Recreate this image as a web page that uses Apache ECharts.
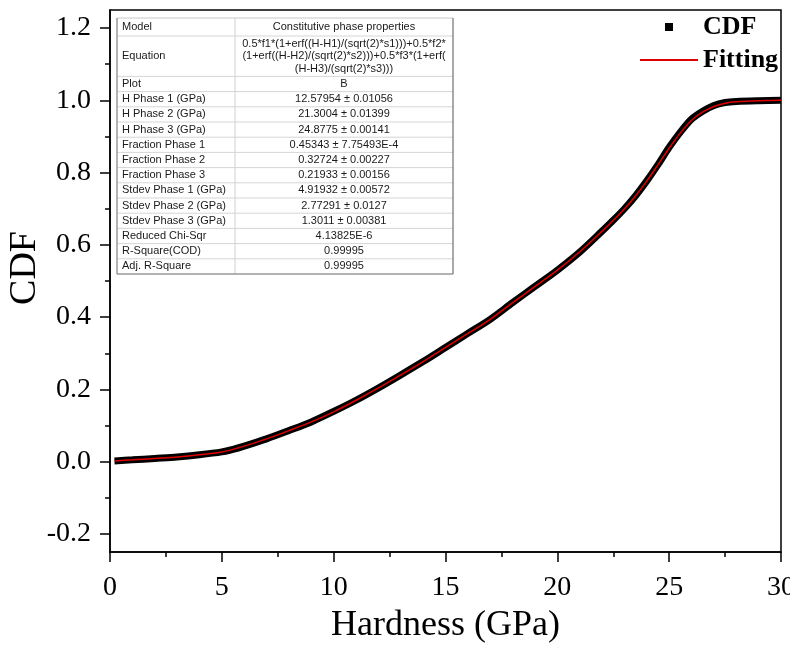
<!DOCTYPE html>
<html>
<head>
<meta charset="utf-8">
<script src="https://cdn.jsdelivr.net/npm/echarts@6/dist/echarts.min.js"></script>
<style>
html,body{margin:0;padding:0;background:#fff;}
#chart{width:790px;height:647px;}
</style>
</head>
<body>
<div id="chart"></div>
<script>
// ---- data ----
const cdfH = [0.2, 1, 2, 3, 4, 5, 5.5, 6, 7, 8, 9, 10, 11, 12, 13, 14, 15, 16, 17, 18, 19, 20, 21, 22, 22.5, 23, 23.5, 24, 24.5, 25, 25.5, 26, 26.5, 27, 27.5, 28, 29, 30];
const cdfV = [0.002, 0.005, 0.009, 0.013, 0.019, 0.027, 0.034, 0.043, 0.063, 0.086, 0.110, 0.139, 0.170, 0.204, 0.240, 0.277, 0.316, 0.355, 0.394, 0.440, 0.485, 0.530, 0.580, 0.638, 0.668, 0.700, 0.736, 0.777, 0.822, 0.870, 0.912, 0.948, 0.970, 0.986, 0.994, 0.997, 0.999, 1.000];
const fitH = [0.2, 1, 2, 3, 4, 5, 5.5, 6, 7, 8, 9, 10, 11, 12, 13, 14, 15, 16, 17, 18, 19, 20, 21, 22, 22.5, 23, 23.5, 24, 24.5, 25, 25.5, 26, 26.5, 27, 27.5, 28, 29, 30];
const fitV = [0.002, 0.005, 0.009, 0.013, 0.019, 0.027, 0.034, 0.043, 0.063, 0.086, 0.110, 0.138, 0.170, 0.204, 0.240, 0.277, 0.316, 0.355, 0.394, 0.440, 0.485, 0.530, 0.581, 0.638, 0.668, 0.700, 0.736, 0.777, 0.822, 0.868, 0.910, 0.945, 0.968, 0.983, 0.992, 0.996, 0.999, 1.000];
const seriesNames = ['CDF', 'Fitting'];
const yMajorTicks = [-0.2, 0.0, 0.2, 0.4, 0.6, 0.8, 1.0, 1.2];
const yMinorTicks = [-0.1, 0.1, 0.3, 0.5, 0.7, 0.9, 1.1];
const xTickStep = 5;
const tableLabels = ['Model', 'Equation', 'Plot', 'H Phase 1 (GPa)', 'H Phase 2 (GPa)', 'H Phase 3 (GPa)', 'Fraction Phase 1', 'Fraction Phase 2', 'Fraction Phase 3', 'Stdev Phase 1 (GPa)', 'Stdev Phase 2 (GPa)', 'Stdev Phase 3 (GPa)', 'Reduced Chi-Sqr', 'R-Square(COD)', 'Adj. R-Square'];
const tableValues = ['Constitutive phase properties',
  '0.5*f1*(1+erf((H-H1)/(sqrt(2)*s1)))+0.5*f2*\n(1+erf((H-H2)/(sqrt(2)*s2)))+0.5*f3*(1+erf(\n(H-H3)/(sqrt(2)*s3)))',
  'B', '12.57954 ± 0.01056', '21.3004 ± 0.01399', '24.8775 ± 0.00141', '0.45343 ± 7.75493E-4', '0.32724 ± 0.00227', '0.21933 ± 0.00156', '4.91932 ± 0.00572', '2.77291 ± 0.0127', '1.3011 ± 0.00381', '4.13825E-6', '0.99995', '0.99995'];

// ---- build ----
const cdfData = cdfH.map((h, i) => [h, cdfV[i]]);
const fitData = fitH.map((h, i) => [h, fitV[i]]);

const serif = '"Liberation Serif", "Times New Roman", serif';
const sans = '"Liberation Sans", Arial, sans-serif';

// table graphic
const tx = 117, ty = 18, tw = 336, c1 = 118;
const rowHeights = tableLabels.map((l, i) => i === 0 ? 18 : (i === 1 ? 40.4 : 15.2));
const tableEls = [];
let yy = ty;
tableEls.push({type: 'rect', shape: {x: tx, y: ty, width: tw, height: rowHeights.reduce((a, b) => a + b, 0)}, style: {fill: '#fff', stroke: null}, z: 10});
rowHeights.forEach((h, i) => {
  const cy = yy + h / 2;
  tableEls.push({type: 'text', x: tx + 5, y: cy, style: {text: tableLabels[i], font: '11px ' + sans, fill: '#1a1a1a', verticalAlign: 'middle', align: 'left'}, z: 12});
  tableEls.push({type: 'text', x: tx + c1 + (tw - c1) / 2, y: cy, style: {text: tableValues[i], font: '11px ' + sans, fill: '#1a1a1a', verticalAlign: 'middle', align: 'center', lineHeight: 12.5}, z: 12});
  yy += h;
  if (i < rowHeights.length - 1) {
    tableEls.push({type: 'line', shape: {x1: tx, y1: yy, x2: tx + tw, y2: yy}, style: {stroke: '#d6d6d6', lineWidth: 1}, z: 11});
  }
});
const tBottom = yy;
tableEls.push({type: 'line', shape: {x1: tx + c1, y1: ty, x2: tx + c1, y2: tBottom}, style: {stroke: '#d0d0d0', lineWidth: 1}, z: 11});
tableEls.push({type: 'line', shape: {x1: tx, y1: ty, x2: tx + tw, y2: ty}, style: {stroke: '#c8c8c8', lineWidth: 1}, z: 11});
tableEls.push({type: 'line', shape: {x1: tx, y1: ty, x2: tx, y2: tBottom}, style: {stroke: '#9a9a9a', lineWidth: 1.5}, z: 11});
tableEls.push({type: 'line', shape: {x1: tx + tw, y1: ty, x2: tx + tw, y2: tBottom}, style: {stroke: '#555', lineWidth: 1}, z: 11});
tableEls.push({type: 'line', shape: {x1: tx, y1: tBottom, x2: tx + tw, y2: tBottom}, style: {stroke: '#666', lineWidth: 1}, z: 11});

const chart = echarts.init(document.getElementById('chart'), null, {renderer: 'canvas'});
chart.setOption({
  backgroundColor: '#ffffff',
  animation: false,
  grid: {left: 110, right: 9, top: 10, bottom: 95, containLabel: false, outerBoundsMode: 'none',
         show: true, borderColor: '#000', borderWidth: 1.5, backgroundColor: 'transparent'},
  legend: [
    {data: [seriesNames[0]], left: 665, top: 13, padding: 0, icon: 'rect', itemWidth: 8, itemHeight: 8,
     textStyle: {fontFamily: serif, fontWeight: 'bold', fontSize: 26, color: '#000', padding: [0, 0, 0, 25], lineHeight: 28}},
    {data: [seriesNames[1]], left: 640, top: 46, padding: 0, icon: 'rect', itemWidth: 58, itemHeight: 2,
     textStyle: {fontFamily: serif, fontWeight: 'bold', fontSize: 26, color: '#000', lineHeight: 28}}
  ],
  xAxis: {
    type: 'value', min: 0, max: 30, interval: xTickStep,
    name: 'Hardness (GPa)', nameLocation: 'middle', nameGap: 56,
    nameTextStyle: {fontFamily: serif, fontSize: 36, color: '#000'},
    axisLine: {show: true, onZero: false, lineStyle: {color: '#000', width: 1.5}},
    axisTick: {show: true, inside: false, length: 10, lineStyle: {color: '#000', width: 1.5}},
    minorTick: {show: true, splitNumber: 2, length: 5, lineStyle: {color: '#000', width: 1.5}},
    axisLabel: {fontFamily: serif, fontSize: 28, color: '#000', margin: 22},
    splitLine: {show: false}
  },
  yAxis: [
    {
      type: 'value', min: -0.25, max: 1.25, position: 'left',
      name: 'CDF', nameLocation: 'middle', nameGap: 66, nameMoveOverlap: false,
      nameTextStyle: {fontFamily: serif, fontSize: 38, color: '#000', padding: [0, 0, 0, 26]},
      axisLine: {show: true, onZero: false, lineStyle: {color: '#000', width: 1.5}},
      axisTick: {show: true, inside: false, length: 10, customValues: yMajorTicks, lineStyle: {color: '#000', width: 1.5}},
      axisLabel: {customValues: yMajorTicks, formatter: v => v.toFixed(1), fontFamily: serif, fontSize: 28, color: '#000', margin: 19},
      splitLine: {show: false}
    },
    {
      type: 'value', min: -0.25, max: 1.25, position: 'left',
      axisLine: {show: false},
      axisTick: {show: true, inside: false, length: 5, customValues: yMinorTicks, lineStyle: {color: '#000', width: 1.5}},
      axisLabel: {show: false},
      splitLine: {show: false}
    }
  ],
  series: [
    {name: seriesNames[0], type: 'line', data: cdfData, yAxisIndex: 0, showSymbol: false, smooth: 0.3,
     itemStyle: {color: '#000'}, lineStyle: {color: '#000', width: 7}, z: 2},
    {name: seriesNames[1], type: 'line', data: fitData, yAxisIndex: 0, showSymbol: false, smooth: 0.3,
     itemStyle: {color: '#e00000'}, lineStyle: {color: '#e00000', width: 1.5}, z: 3}
  ],
  graphic: tableEls
});
</script>
</body>
</html>
